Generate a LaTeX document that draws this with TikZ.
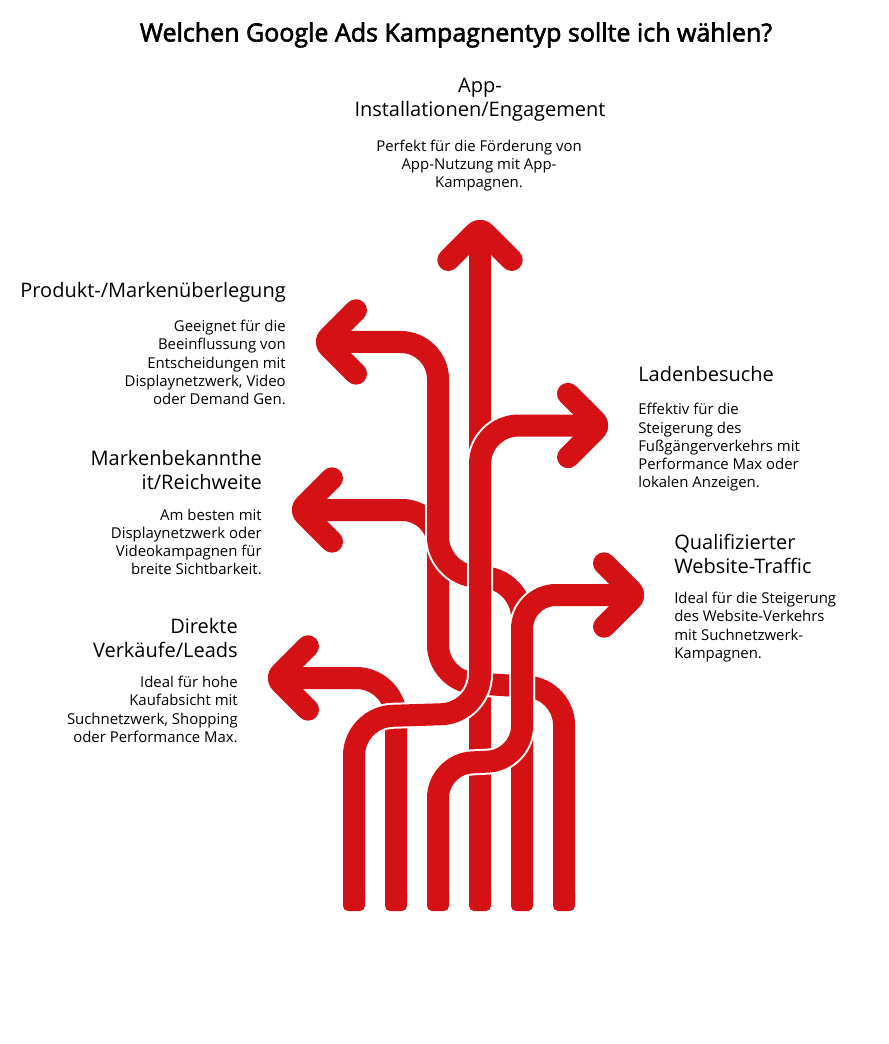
\documentclass[tikz,border=0pt]{standalone}
\usepackage{fontspec}
\setmainfont{Open Sans}
\newfontfamily\titlefont[FakeBold=2.4]{Open Sans}
\definecolor{lanered}{HTML}{D41114}
\tikzset{
	lane/.style={draw=lanered, line width=16.5pt, preaction={draw=white, line width=19.5pt}},
	foot/.style={fill=lanered, rounded corners=3.75pt, minimum width=16.5pt, minimum height=16.5pt, inner sep=0pt},
	chevron/.pic={
		\fill[lanered] (-39.5,32.2) [rounded corners=13pt] -- (0,-7.3) [sharp corners] -- (39.5,32.2)
			arc[start angle=-45, end angle=135, radius=11] -- (0,23.9) -- (-23.9,47.8)
			arc[start angle=45, end angle=225, radius=11] -- cycle;
	},
	head/.style={font=\fontsize{15}{18}\selectfont, inner sep=0pt},
	body/.style={font=\fontsize{11.2}{13.7}\selectfont, inner sep=0pt}
}
\begin{document}
\begin{tikzpicture}[x=0.75pt, y=-0.75pt]
	\useasboundingbox (0,0) rectangle (888,1044);

	\node (title) at (456, 35) {\fontsize{18.75}{22}\selectfont\titlefont Welchen Google Ads Kampagnentyp sollte ich wählen?};

	\node[head, align=center] (happ) at (480, 100) {App-\\Installationen/Engagement};
	\node[body, align=center] (bapp) at (479, 165.5) {Perfekt für die Förderung von\\App-Nutzung mit App-\\Kampagnen.};
	\node[head, align=right, anchor=east] (hprod) at (286, 292) {Produkt-/Markenüberlegung};
	\node[body, align=right, anchor=east] (bprod) at (286, 362.5) {Geeignet für die\\Beeinflussung von\\Entscheidungen mit\\Displaynetzwerk, Video\\oder Demand Gen.};
	\node[head, align=right, anchor=east] (hmark) at (262, 470) {Markenbekannthe\\it/Reichweite};
	\node[body, align=right, anchor=east] (bmark) at (262, 542) {Am besten mit\\Displaynetzwerk oder\\Videokampagnen für\\breite Sichtbarkeit.};
	\node[head, align=right, anchor=east] (hdir) at (238, 638) {Direkte\\Verkäufe/Leads};
	\node[body, align=right, anchor=east] (bdir) at (238, 709.5) {Ideal für hohe\\Kaufabsicht mit\\Suchnetzwerk, Shopping\\oder Performance Max.};
	\node[head, align=left, anchor=west] (hlad) at (638, 374) {Ladenbesuche};
	\node[body, align=left, anchor=west] (blad) at (638, 447.5) {Effektiv für die\\Steigerung des\\Fußgängerverkehrs mit\\Performance Max oder\\lokalen Anzeigen.};
	\node[head, align=left, anchor=west] (hweb) at (674, 554) {Qualifizierter\\Website-Traffic};
	\node[body, align=left, anchor=west] (bweb) at (674, 627) {Ideal für die Steigerung\\des Website-Verkehrs\\mit Suchnetzwerk-\\Kampagnen.};

	\coordinate (tapp) at (480, 220);
	\coordinate (tprod) at (316, 342);
	\coordinate (tmark) at (292, 510);
	\coordinate (tdir) at (268, 678);
	\coordinate (tlad) at (608, 425.5);
	\coordinate (tweb) at (644, 595);

	\coordinate (e4) at (480, 235);
	\coordinate (e3) at (283, 678);
	\coordinate (e6) at (307, 510);
	\coordinate (e5) at (331, 342);
	\coordinate (e2) at (629, 595);
	\coordinate (e1) at (593, 425.5);

	\coordinate (s1) at (354, 900);
	\coordinate (s2) at (396, 900);
	\coordinate (s3) at (438, 900);
	\coordinate (s4) at (480, 900);
	\coordinate (s5) at (522, 900);
	\coordinate (s6) at (564, 900);

	\coordinate (c11) at (354, 717);
	\coordinate (c12) at (480, 713);
	\coordinate (c13) at (480, 425.5);
	\coordinate (c21) at (438, 764);
	\coordinate (c22) at (522, 760);
	\coordinate (c23) at (522, 595);
	\coordinate (c31) at (396, 678);
	\coordinate (c51) at (522, 580);
	\coordinate (c52) at (438, 574);
	\coordinate (c53) at (438, 342);
	\coordinate (c61) at (564, 689);
	\coordinate (c62) at (438, 681);
	\coordinate (c63) at (438, 510);

	\draw[draw=lanered, line width=16.5pt] (s4) -- (e4);
	\pic at (tapp) {chevron};

	\draw[lane, rounded corners=30pt] (s2) -- (c31) -- (e3);
	\pic[rotate=90] at (tdir) {chevron};

	\draw[lane, rounded corners=27pt] (s6) -- (c61) -- (c62) -- (c63) -- (e6);
	\pic[rotate=90] at (tmark) {chevron};

	\draw[lane, rounded corners=28pt] (s5) -- (c51) -- (c52) -- (c53) -- (e5);
	\pic[rotate=90] at (tprod) {chevron};

	\draw[lane, rounded corners=25.5pt] (s3) -- (c21) -- (c22) -- (c23) -- (e2);
	\pic[rotate=-90] at (tweb) {chevron};

	\draw[lane, rounded corners=29pt] (s1) -- (c11) -- (c12) -- (c13) -- (e1);
	\pic[rotate=-90] at (tlad) {chevron};

	\node[foot] (f1) at (s1) {};
	\node[foot] (f2) at (s2) {};
	\node[foot] (f3) at (s3) {};
	\node[foot] (f4) at (s4) {};
	\node[foot] (f5) at (s5) {};
	\node[foot] (f6) at (s6) {};
\end{tikzpicture}
\end{document}
